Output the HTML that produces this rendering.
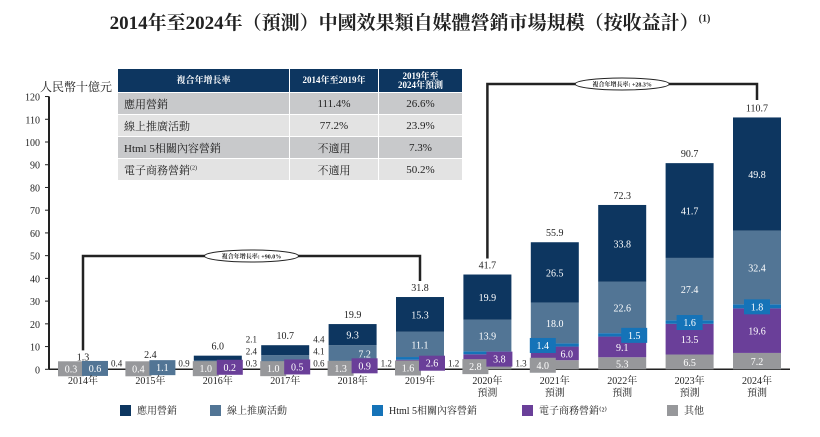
<!DOCTYPE html>
<html><head><meta charset="utf-8">
<style>
body{margin:0;background:#fff;width:820px;height:437px;overflow:hidden;font-family:"Liberation Serif","Noto Serif CJK SC",serif;}
#title{position:absolute;left:0;top:8px;width:820px;text-align:center;font-size:19px;font-weight:bold;color:#222;}
#title sup{font-size:10px;}
table{position:absolute;left:117px;top:68px;border-collapse:collapse;font-size:11px;}
td,th{border:1.5px solid #fff;padding:0;height:21px;}
th{background:#0d3660;color:#fff;font-size:9px;line-height:9px;}
td{color:#222;}
tr.a td{background:#c8c9cb}tr.b td{background:#e3e3e3}
</style></head><body>
<div id="title">2014年至2024年（預測）中國效果類自媒體營銷市場規模（按收益計）<sup>(1)</sup></div>
<table>
<tr style="height:24px"><th style="width:171px">複合年增長率</th><th style="width:88px">2014年至2019年</th><th style="width:83px">2019年至<br>2024年預測</th></tr>
<tr class="a"><td style="padding-left:6px">應用營銷</td><td align="center">111.4%</td><td align="center">26.6%</td></tr>
<tr class="b"><td style="padding-left:6px">線上推廣活動</td><td align="center">77.2%</td><td align="center">23.9%</td></tr>
<tr class="a"><td style="padding-left:6px">Html 5相關內容營銷</td><td align="center">不適用</td><td align="center">7.3%</td></tr>
<tr class="b"><td style="padding-left:6px">電子商務營銷<sup style="font-size:6px">(2)</sup></td><td align="center">不適用</td><td align="center">50.2%</td></tr>
</table>
<svg id="chart" width="820" height="437" style="position:absolute;left:0;top:0"></svg>
<script>
const years=["2014年","2015年","2016年","2017年","2018年","2019年","2020年","2021年","2022年","2023年","2024年"];
const forecast=[0,0,0,0,0,0,1,1,1,1,1];
const other=[0.3,0.4,1.0,1.0,1.3,1.6,2.8,4.0,5.3,6.5,7.2];
const ecom=[0,0,0.2,0.5,0.9,2.6,3.8,6.0,9.1,13.5,19.6];
const html5=[0,0,0.3,0.6,1.2,1.2,1.3,1.4,1.5,1.6,1.8];
const online=[0.6,1.1,2.4,4.1,7.2,11.1,13.9,18.0,22.6,27.4,32.4];
const app=[0.4,0.9,2.1,4.4,9.3,15.3,19.9,26.5,33.8,41.7,49.8];
const totals=["1.3","2.4","6.0","10.7","19.9","31.8","41.7","55.9","72.3","90.7","110.7"];
const yTicks=[0,10,20,30,40,50,60,70,80,90,100,110,120];
const series=[["other",other,"#97989b","其他"],["ecom",ecom,"#6a3f99","電子商務營銷"],["html5",html5,"#1573b8","Html 5相關內容營銷"],["online",online,"#527595","線上推廣活動"],["app",app,"#0d3660","應用營銷"]];
const svg=document.getElementById('chart');const NS="http://www.w3.org/2000/svg";
function y(v){return 369.3-v*2.273;}
function x(i){return 83+i*67.4;}
const bw=48;
function mk(t,a,p){const e=document.createElementNS(NS,t);for(const k in a)e.setAttribute(k,a[k]);(p||svg).appendChild(e);return e;}
function tx(s,xx,yy,sz,fill,anchor,name,w){const e=mk('text',{x:xx,y:yy,'font-size':sz,fill:fill,'text-anchor':anchor||'middle','font-family':'"Liberation Serif","Noto Serif CJK SC",serif','font-weight':w||'normal'});e.textContent=s;return e;}
const ax=mk('line',{x1:49,y1:y(0),x2:49,y2:y(120),stroke:'#222','stroke-width':2});

const bl=mk('line',{x1:49,y1:y(0),x2:790,y2:y(0),stroke:'#222','stroke-width':1.5});

yTicks.forEach(t=>{const l=mk('line',{x1:45,y1:y(t),x2:49,y2:y(t),stroke:'#222'});tx(String(t),40,y(t)+4,10,'#222','end','y-tick-label');});
tx('人民幣十億元',112,91,12,'#222','end','y-axis-title');
function box(v,col,bx,by){const b=mk('rect',{x:bx-13,y:by-7,width:26,height:15,fill:col});
 tx(v.toFixed(1),bx,by+4,10,'#fff','middle','value-label');}
years.forEach((yr,i)=>{let base=0;const small=[];const inl=[];
 series.forEach(([k,vals,col])=>{const v=vals[i];if(v<=0)return;
  const r=mk('rect',{x:x(i)-bw/2,y:y(base+v),width:bw,height:v*2.273,fill:col});
  
  const h=v*2.273;
  if(h>=12)inl.push([k,v,h,y(base+v/2)]);
  else small.push([k,v,col,y(base+v/2)]);
  base+=v;});
 let out=0;
 small.forEach(([k,v,col,cy],n)=>{
  const by=Math.min(cy,y(0)-1);
  if(i>=7){const off=k==='other'?-12:(i===7?-12:(i===8?12:0));box(v,col,x(i)+off,by);}
  else if(n<2){box(v,col,x(i)+(n===0?-12:12),by);}
  else{tx(v.toFixed(1),x(i)+bw/2+4,y(0)-3-out*12,9,'#222','start','value-label');out++;}
 });
 inl.forEach(([k,v,h,cy])=>{const dx=(h<18&&small.length&&k!=='other')?12:0;tx(v.toFixed(1),x(i)+dx,cy+4,10,'#fff','middle','value-label');});
 tx(totals[i],x(i),y(base)-6,10,'#222','middle','total-label');
 tx(yr,x(i),384,10,'#222','middle','x-label');
 if(forecast[i])tx('預測',x(i),396,10,'#222','middle','x-label-forecast');
});
function br(i1,i2,top,y1,y2,label,name){const p=mk('path',{d:`M${x(i1)} ${y1}V${top}H${x(i2)}V${y2}`,fill:'none',stroke:'#222','stroke-width':2.5});
 const cx=(x(i1)+x(i2))/2;const e=mk('ellipse',{cx:cx,cy:top,rx:47,ry:6,fill:'#fff',stroke:'#222'});
 tx(label,cx,top+2.5,6,'#222','middle',name+'-label','bold');}
br(0,5,256,y(1.3)-16,y(31.8)-16,'複合年增長率: +90.0%','cagr-bracket-2014-2019');
br(6,10,84,y(41.7)-16,100,'複合年增長率: +28.3%','cagr-bracket-2019-2024');
const leg=[["#0d3660","應用營銷",120],["#527595","線上推廣活動",210],["#1573b8","Html 5相關內容營銷",372],["#6a3f99","電子商務營銷⁽²⁾",522],["#97989b","其他",667]];
leg.forEach(([c,l,lx])=>{const r=mk('rect',{x:lx,y:405,width:11,height:11,fill:c});tx(l,lx+17,414,10,'#222','start','legend-entry');});
</script>
</body></html>
